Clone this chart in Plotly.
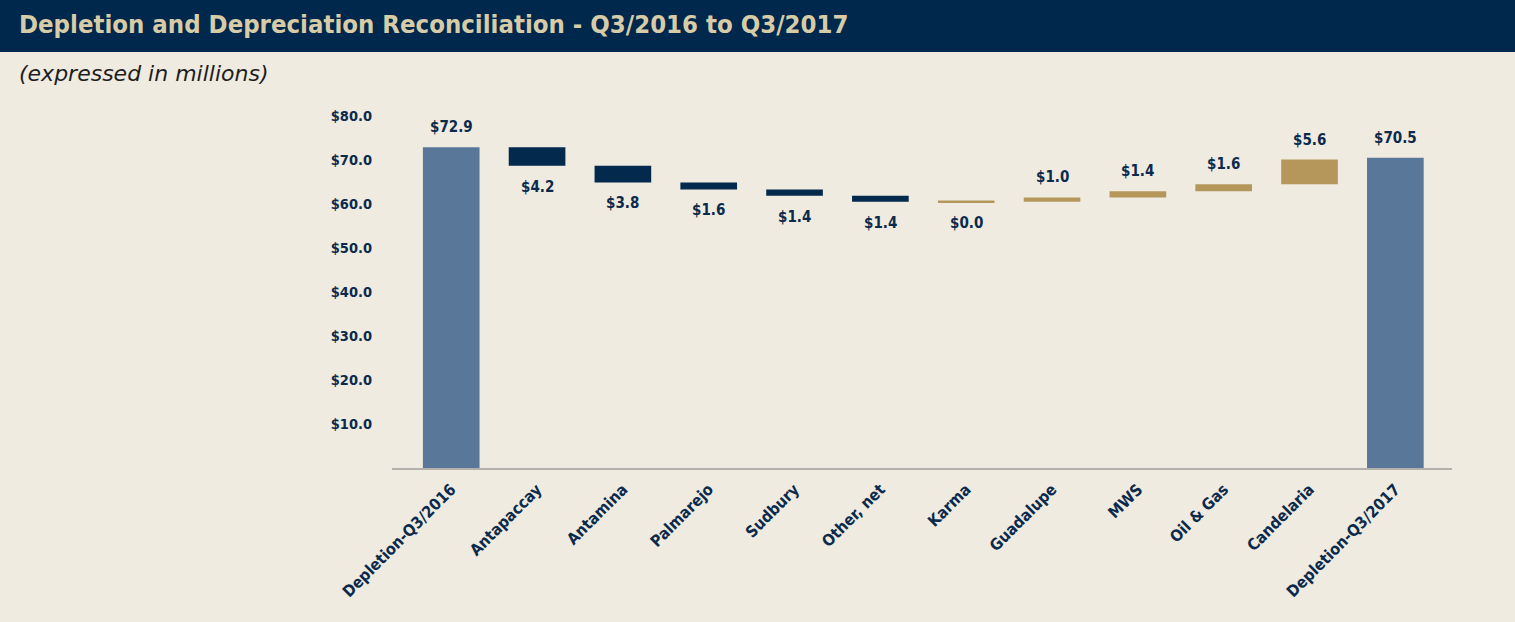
import plotly.graph_objects as go

categories = ["Depletion-Q3/2016", "Antapaccay", "Antamina", "Palmarejo", "Sudbury",
              "Other, net", "Karma", "Guadalupe", "MWS", "Oil & Gas", "Candelaria",
              "Depletion-Q3/2017"]
measures = ["total", "decrease", "decrease", "decrease", "decrease", "decrease",
            "increase", "increase", "increase", "increase", "increase", "total"]
values = [72.9, 4.2, 3.8, 1.6, 1.4, 1.4, 0.0, 1.0, 1.4, 1.6, 5.6, 70.5]
label_side = ["above", "below", "below", "below", "below", "below", "below",
              "above", "above", "above", "above", "above"]
y_ticks = [10, 20, 30, 40, 50, 60, 70, 80]
y_tick_labels = ["$10.0", "$20.0", "$30.0", "$40.0", "$50.0", "$60.0", "$70.0", "$80.0"]

C_TOTAL = "#587799"
C_DEC = "#03294d"
C_INC = "#b5975b"
C_NAVY = "#0b2a4c"
BG = "#efebe1"
BAND = "#00274c"
TITLE_C = "#d8cca8"
FONT = "DejaVu Sans Condensed, Liberation Sans Narrow, Arial Narrow, sans-serif"

bases, heights, colors, line_w = [], [], [], []
running = 0.0
for m, v in zip(measures, values):
    if m == "total":
        bases.append(0.0); heights.append(v); running = v; colors.append(C_TOTAL)
    elif m == "decrease":
        bases.append(running - v); heights.append(v); running -= v; colors.append(C_DEC)
    else:
        bases.append(running); heights.append(v); running += v; colors.append(C_INC)
    line_w.append(2.5 if v == 0 else 0)

fig = go.Figure()
fig.add_trace(go.Bar(
    x=categories, y=heights, base=bases,
    marker=dict(color=colors, line=dict(color=colors, width=line_w)),
    width=0.66, hoverinfo="skip", showlegend=False,
))

for c, b, h, v, side in zip(categories, bases, heights, values, label_side):
    if side == "above":
        y, ys = b + h, 20
    else:
        y, ys = b, -21
    fig.add_annotation(x=c, y=y, text=f"<b>${v:.1f}</b>", showarrow=False,
                       yanchor="middle", yshift=ys,
                       font=dict(family=FONT, size=15, color=C_NAVY))

W, H = 1515, 622
L, R, T, B = 392, 63, 116, 154
pw, ph = W - L - R, H - T - B

def px_x(x):
    return (x - L) / pw

def px_y(y):
    return (H - B - y) / ph

fig.add_shape(type="rect", xref="paper", yref="paper",
              x0=px_x(-5), x1=px_x(W + 5), y0=px_y(52), y1=px_y(-5),
              fillcolor=BAND, line=dict(width=0), layer="below")

fig.add_annotation(xref="paper", yref="paper", x=px_x(17), y=px_y(24),
                   xanchor="left", yanchor="middle", showarrow=False,
                   text="<b>Depletion and Depreciation Reconciliation - Q3/2016 to Q3/2017</b>",
                   font=dict(family=FONT, size=25.5, color=TITLE_C))
fig.add_annotation(xref="paper", yref="paper", x=px_x(17), y=px_y(74),
                   xanchor="left", yanchor="middle", showarrow=False,
                   text="<i>(expressed in millions)</i>",
                   font=dict(family="DejaVu Sans, sans-serif", size=22, color="#1e1e1e"))

fig.update_layout(
    width=W, height=H,
    margin=dict(l=L, r=R, t=T, b=B, pad=0),
    paper_bgcolor=BG, plot_bgcolor=BG,
    bargap=0.34,
    font=dict(family=FONT, color=C_NAVY),
)
fig.update_xaxes(
    range=[-0.69, 11.66], showgrid=False, zeroline=False,
    showline=True, linecolor="#b3b1ab", linewidth=1.5,
    tickangle=-45, ticks="", tickfont=dict(family=FONT, size=16, color=C_NAVY),
    ticklabelstandoff=4,
    tickvals=categories, ticktext=[f"<b>{c}</b>" for c in categories],
)
fig.update_yaxes(
    range=[0, 80], showgrid=False, zeroline=False, showline=False,
    tickvals=y_ticks, ticktext=[f"<b>{t}</b>" for t in y_tick_labels],
    tickfont=dict(family=FONT, size=14.5, color=C_NAVY), ticks="",
    ticklabelstandoff=19,
)

fig.write_html("out.html", config={"displayModeBar": False},
               post_script="document.body.style.margin='0px';document.body.style.overflow='hidden';")
